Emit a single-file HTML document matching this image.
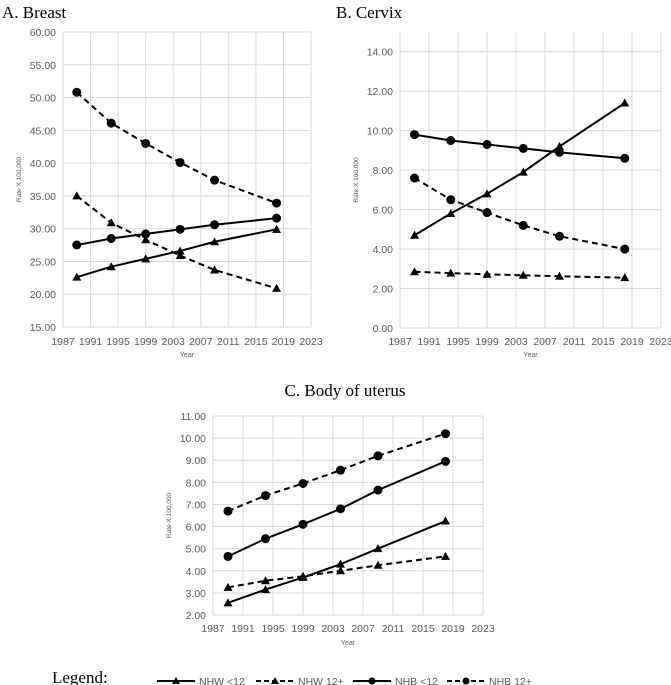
<!DOCTYPE html>
<html><head><meta charset="utf-8"><style>
body{margin:0;background:#fff;width:671px;height:685px;overflow:hidden}
svg{display:block}
</style></head><body>
<svg id="chart" width="671" height="685" viewBox="0 0 671 685" xmlns="http://www.w3.org/2000/svg">
<text x="2" y="18" font-family="Liberation Serif" font-size="17">A. Breast</text>
<text x="336" y="18" font-family="Liberation Serif" font-size="17">B. Cervix</text>
<text x="345" y="396" text-anchor="middle" font-family="Liberation Serif" font-size="17">C.  Body of uterus</text>
<text x="52" y="683" font-family="Liberation Serif" font-size="17">Legend:</text>
</svg>
<script>
const years=[1989,1994,1999,2004,2009,2018];
const xTicks=[1987,1991,1995,1999,2003,2007,2011,2015,2019,2023];
const seriesNames=["NHW <12","NHW 12+","NHB <12","NHB 12+"];
const breastNHW12=[22.6,24.2,25.4,26.6,28.0,29.9];
const breastNHW12p=[35.0,30.9,28.3,25.9,23.7,20.9];
const breastNHB12=[27.5,28.5,29.2,29.9,30.6,31.6];
const breastNHB12p=[50.8,46.1,43.0,40.1,37.4,33.9];
const cervixNHW12=[4.7,5.8,6.8,7.9,9.2,11.4];
const cervixNHW12p=[2.85,2.78,2.72,2.67,2.62,2.55];
const cervixNHB12=[9.8,9.5,9.3,9.1,8.9,8.6];
const cervixNHB12p=[7.6,6.5,5.85,5.2,4.65,4.0];
const uterusNHW12=[2.55,3.15,3.7,4.3,5.0,6.25];
const uterusNHW12p=[3.25,3.55,3.75,4.0,4.25,4.65];
const uterusNHB12=[4.65,5.45,6.1,6.8,7.65,8.95];
const uterusNHB12p=[6.7,7.4,7.95,8.55,9.2,10.2];
const breastYTicks=[15,20,25,30,35,40,45,50,55,60];
const cervixYTicks=[0,2,4,6,8,10,12,14];
const uterusYTicks=[2,3,4,5,6,7,8,9,10,11];

const NS="http://www.w3.org/2000/svg";
const svg=document.getElementById('chart');
function mk(tag,attrs,parent){const e=document.createElementNS(NS,tag);for(const k in attrs)e.setAttribute(k,attrs[k]);(parent||svg).appendChild(e);return e;}

function panel(id,L,R,T,B,ymin,ymax,yTicks,series,xLabY,yearY,yTitleX){
  const g=mk('g',{});
  
  
  const xs=v=>L+(v-1987)/(2023-1987)*(R-L);
  const ys=v=>B-(v-ymin)/(ymax-ymin)*(B-T);
  xTicks.forEach(t=>{const l=mk('line',{x1:xs(t),x2:xs(t),y1:T,y2:B,stroke:'#d9d9d9','stroke-width':1},g);
    
    const tx=mk('text',{x:xs(t),y:xLabY,'text-anchor':'middle','font-family':'Liberation Sans','font-size':10.5,fill:'#595959'},g);tx.textContent=t;
    });
  yTicks.forEach(t=>{const l=mk('line',{x1:L,x2:R,y1:ys(t),y2:ys(t),stroke:'#d9d9d9','stroke-width':1},g);
    
    const tx=mk('text',{x:L-7,y:ys(t)+4,'text-anchor':'end','font-family':'Liberation Sans','font-size':10.5,fill:'#595959'},g);tx.textContent=t.toFixed(2);
    });
  const yr=mk('text',{x:(L+R)/2,y:yearY,'text-anchor':'middle','font-family':'Liberation Sans','font-size':7,fill:'#595959'},g);yr.textContent='Year';
  
  const ymid=(T+B)/2;
  const yt=mk('text',{x:yTitleX,y:ymid,'text-anchor':'middle','font-family':'Liberation Sans','font-size':6.5,fill:'#595959',transform:`rotate(-90 ${yTitleX} ${ymid})`},g);yt.textContent='Rate X 100,000';
  
  series.forEach((vals,i)=>{
    const dashed=i%2===1, circ=i>=2;
    const pts=vals.map((v,j)=>xs(years[j])+','+ys(v)).join(' ');
    const pl=mk('polyline',{points:pts,fill:'none',stroke:'#000','stroke-width':2,'stroke-dasharray':dashed?'6,4':'none'},g);
    
    
    vals.forEach((v,j)=>{const x=xs(years[j]),y=ys(v);let m;
      if(circ)m=mk('circle',{cx:x,cy:y,r:4.5,fill:'#000'},g);
      else m=mk('polygon',{points:`${x},${y-4.5} ${x-4.5},${y+3.5} ${x+4.5},${y+3.5}`,fill:'#000'},g);
      });
  });
}
panel('breast',63,311,32,327,15,60,breastYTicks,[breastNHW12,breastNHW12p,breastNHB12,breastNHB12p],345,357,21);
panel('cervix',400,661,32,328,0,15,cervixYTicks,[cervixNHW12,cervixNHW12p,cervixNHB12,cervixNHB12p],345,357,358);
panel('uterus',213,483,416,615,2,11,uterusYTicks,[uterusNHW12,uterusNHW12p,uterusNHB12,uterusNHB12p],632,645,171);

const lx=[157,256,353,447];
seriesNames.forEach((n,i)=>{
  const g=mk('g',{});
  
  
  const y=681,x0=lx[i],x1=x0+38,xm=(x0+x1)/2;
  mk('line',{x1:x0,x2:x1,y1:y,y2:y,stroke:'#000','stroke-width':2,'stroke-dasharray':i%2?'5,3':'none'},g);
  if(i>=2)mk('circle',{cx:xm,cy:y,r:3.5,fill:'#000'},g);
  else mk('polygon',{points:`${xm},${y-4} ${xm-4},${y+3} ${xm+4},${y+3}`,fill:'#000'},g);
  const t=mk('text',{x:x1+4,y:y+4,'font-family':'Liberation Sans','font-size':10.5,fill:'#595959'},g);t.textContent=n;
});
</script>
</body></html>
